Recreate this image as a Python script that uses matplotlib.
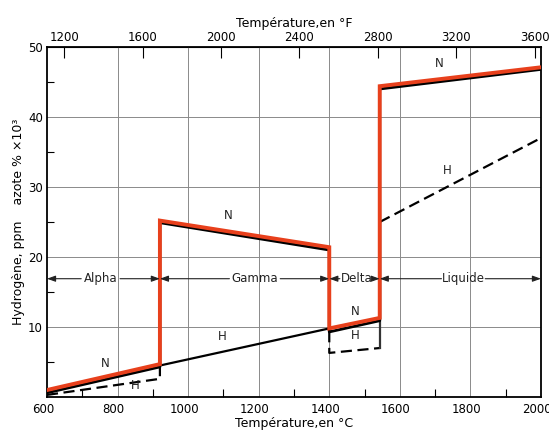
import matplotlib
matplotlib.use("Agg")
import matplotlib.pyplot as plt
import matplotlib.transforms as mtrans
import numpy as np

# ---- data ----
N_temp = [600, 920, 920, 1400, 1400, 1543, 1543, 2000]
N_red = [1.0, 4.7, 25.2, 21.4, 9.8, 11.3, 44.4, 47.1]
N_black = [0.6, 4.3, 24.9, 21.0, 9.3, 10.9, 44.0, 46.8]

H_alpha_temp = [600, 920, 920]
H_alpha = [0.3, 2.6, 4.3]
H_gamma_temp = [920, 1400]
H_gamma = [4.5, 9.8]
H_delta_temp = [1400, 1400, 1543, 1543]
H_delta = [9.4, 6.3, 7.0, 25.0]
H_liq_temp = [1543, 2000]
H_liq = [25.0, 37.0]

phase_names = ["Alpha", "Gamma", "Delta", "Liquide"]
phase_bounds = [600, 920, 1400, 1543, 2000]
phase_text_x = [752, 1189, 1477, 1780]
phase_text_half = [55, 72, 47, 62]
phase_y = 16.9

x_ticks = [600, 800, 1000, 1200, 1400, 1600, 1800, 2000]
y_ticks = [10, 20, 30, 40, 50]
f_ticks = [1200, 1600, 2000, 2400, 2800, 3200, 3600]

curve_labels = [("N", 764, 3.9), ("H", 849, 0.7), ("N", 1113, 25.0), ("H", 1096, 7.7),
                ("N", 1473, 11.3), ("H", 1473, 7.9), ("N", 1713, 46.7), ("H", 1733, 31.4)]

fig = plt.figure(figsize=(5.49, 4.33), dpi=100)
ax = fig.add_axes([0.0856, 0.0831, 0.8998, 0.8084])
ax.set_xlim(600, 2000)
ax.set_ylim(0, 50)

# grid
for t in x_ticks[1:-1]:
    ax.axvline(t, color="#8a8a8a", lw=0.7, zorder=1)
for v in y_ticks[:-1]:
    ax.axhline(v, color="#8a8a8a", lw=0.7, zorder=1)

# H curves (dashed / solid)
dash = (0, (5, 2.5))
ax.plot(H_alpha_temp, H_alpha, color="black", lw=1.6, ls=dash, zorder=3)
ax.plot(H_gamma_temp, H_gamma, color="black", lw=1.6, zorder=3)
ax.plot(H_delta_temp[:3], H_delta[:3], color="black", lw=1.6, ls=dash, zorder=3)
ax.plot(H_delta_temp[2:], H_delta[2:], color="#333333", lw=1.6, zorder=3)
ax.plot(H_liq_temp, H_liq, color="black", lw=1.6, ls=dash, zorder=3)

# N curves
ax.plot(N_temp, N_black, color="black", lw=2.0, zorder=4)
ax.plot(N_temp, N_red, color="#E8401C", lw=2.8, zorder=5, solid_joinstyle="miter")

# curve labels
for lab, x, y in curve_labels:
    ax.text(x, y, lab, ha="center", va="bottom", fontsize=8.5, color="#222222", zorder=6)

# phase arrows
ap = dict(arrowstyle="-|>,head_length=0.5,head_width=0.18", color="#222222", lw=0.8,
          shrinkA=0, shrinkB=0)
for i, name in enumerate(phase_names):
    xc = phase_text_x[i]
    hw = phase_text_half[i]
    ax.text(xc, phase_y, name, ha="center", va="center", fontsize=8.5, color="#222222", zorder=6)
    ax.annotate("", xy=(phase_bounds[i], phase_y), xytext=(xc - hw, phase_y), arrowprops=ap, zorder=6)
    ax.annotate("", xy=(phase_bounds[i + 1], phase_y), xytext=(xc + hw, phase_y), arrowprops=ap, zorder=6)

# axes styling
for s in ax.spines.values():
    s.set_linewidth(1.3)
ax.set_xticks(x_ticks)
ax.set_xticks(np.arange(700, 2000, 200), minor=True)
ax.set_yticks(y_ticks)
ax.set_yticks([5, 15, 25, 35, 45], minor=True)
ax.tick_params(axis="x", which="major", length=0, labelsize=8.5, pad=4)
ax.tick_params(axis="x", which="minor", direction="in", length=6, width=0.8)
ax.tick_params(axis="y", which="major", length=0, labelsize=8.5, pad=3)
ax.tick_params(axis="y", which="minor", direction="in", length=5, width=0.8)
# nudge bottom tick labels slightly left like the reference
shift = mtrans.ScaledTranslation(-4 / 100, 0, fig.dpi_scale_trans)
for lbl in ax.get_xticklabels():
    lbl.set_transform(lbl.get_transform() + shift)
ax.set_xlabel("Température,en °C", fontsize=9, labelpad=1)
ax.set_ylabel("Hydrogène, ppm    azote % ×10³", fontsize=9, labelpad=2)

c2f = lambda c: np.asarray(c) * 9 / 5 + 32
f2c = lambda f: (np.asarray(f) - 32) * 5 / 9
sec = ax.secondary_xaxis("top", functions=(c2f, f2c))
sec.set_xticks(f_ticks)
sec.tick_params(direction="in", length=8, width=0.8, labelsize=8.5, pad=2)
sec.set_xlabel("Température,en °F", fontsize=9, labelpad=3)

fig.savefig("out.png", dpi=100)
